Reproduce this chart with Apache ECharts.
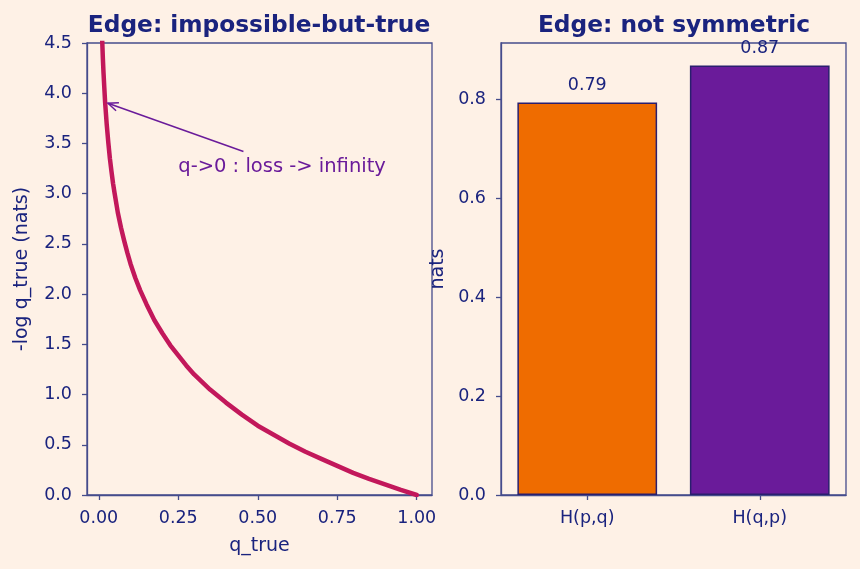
<!DOCTYPE html>
<html>
<head>
<meta charset="utf-8">
<script src="https://cdn.jsdelivr.net/npm/echarts@6/dist/echarts.min.js"></script>
<style>
  html, body { margin: 0; padding: 0; background: #fef1e6; }
  #main { width: 860px; height: 569px; }
</style>
</head>
<body>
<div id="main"></div>
<script>
// 左图: -log q_true 曲线 (读图估计的点)
var qTrue = [0.01, 0.011, 0.013, 0.015, 0.0175, 0.02, 0.025, 0.03, 0.035, 0.04, 0.045, 0.05, 0.06, 0.07, 0.08,
             0.09, 0.10, 0.115, 0.13, 0.15, 0.175, 0.20, 0.225, 0.25, 0.275, 0.30, 0.35, 0.40, 0.45, 0.50,
             0.55, 0.60, 0.65, 0.70, 0.75, 0.80, 0.85, 0.90, 0.95, 1.00];
var negLog = [4.61, 4.51, 4.34, 4.20, 4.05, 3.91, 3.69, 3.51, 3.35, 3.22, 3.10, 3.00, 2.81, 2.66, 2.53,
              2.41, 2.30, 2.16, 2.04, 1.90, 1.74, 1.61, 1.49, 1.39, 1.29, 1.20, 1.05, 0.92, 0.80, 0.69,
              0.60, 0.51, 0.43, 0.36, 0.29, 0.22, 0.16, 0.105, 0.05, 0.00];
var xTicks = [0, 0.25, 0.5, 0.75, 1.0];

// 注释
var annPoint = [0.02, 3.91];
var annTail = [0.455, 3.42];
var annTextPos = [0.25, 3.2];
var annText = 'q->0 : loss -> infinity';

// 右图: 交叉熵不对称
var barNames = ['H(p,q)', 'H(q,p)'];
var barValues = [0.793, 0.868];
var barColors = ['#ef6c00', '#6a1b9a'];
var rightTicks = [0, 0.2, 0.4, 0.6, 0.8];

var navy = '#1a237e';
var spine = '#454c8c';
var font = 'DejaVu Sans';
var tickSize = 17.5;

var curve = qTrue.map(function(q, i) { return [q, negLog[i]]; });

function axisBase() {
    return {
        axisLine: { show: true, onZero: false, lineStyle: { color: spine, width: 1.3 } },
        axisTick: { show: true, length: 5, lineStyle: { color: spine, width: 1.3 } },
        axisLabel: { color: navy, fontSize: tickSize, fontFamily: font },
        splitLine: { show: false },
        nameTextStyle: { color: navy, fontSize: 19, fontFamily: font }
    };
}

var chart = echarts.init(document.getElementById('main'));

var xLeft = axisBase();
Object.assign(xLeft, {
    type: 'value', gridIndex: 0, min: -0.037, max: 1.048,
    name: 'q_true', nameLocation: 'middle', nameGap: 42
});
xLeft.axisLabel = Object.assign({}, xLeft.axisLabel, {
    margin: 14, customValues: xTicks,
    formatter: function(v) { return v.toFixed(2); }
});
xLeft.axisTick = Object.assign({}, xLeft.axisTick, { customValues: xTicks });

var yLeft = axisBase();
Object.assign(yLeft, {
    type: 'value', gridIndex: 0, min: 0, max: 4.5, interval: 0.5,
    name: '-log q_true (nats)', nameLocation: 'middle', nameGap: 55
});
yLeft.axisLabel = Object.assign({}, yLeft.axisLabel, {
    margin: 15, showMaxLabel: true,
    formatter: function(v) { return v.toFixed(1); }
});

var xRight = axisBase();
Object.assign(xRight, {
    type: 'category', gridIndex: 1, data: barNames, boundaryGap: true
});
xRight.axisTick = Object.assign({}, xRight.axisTick, { alignWithLabel: true });
xRight.axisLabel = Object.assign({}, xRight.axisLabel, { margin: 14 });

var yRight = axisBase();
Object.assign(yRight, {
    type: 'value', gridIndex: 1, min: 0, max: 0.9135,
    name: 'nats', nameLocation: 'middle', nameGap: 53
});
yRight.axisLabel = Object.assign({}, yRight.axisLabel, {
    margin: 15, customValues: rightTicks,
    formatter: function(v) { return v.toFixed(1); }
});
yRight.axisTick = Object.assign({}, yRight.axisTick, { customValues: rightTicks });

var option = {
    backgroundColor: '#fef1e6',
    animation: false,
    title: [
        { text: 'Edge: impossible-but-true', left: 254, top: 9, textAlign: 'center',
          textStyle: { color: navy, fontSize: 23.3, fontWeight: 'bold', fontFamily: font } },
        { text: 'Edge: not symmetric', left: 669, top: 9, textAlign: 'center',
          textStyle: { color: navy, fontSize: 23.3, fontWeight: 'bold', fontFamily: font } }
    ],
    grid: [
        { left: 87, top: 43, width: 345, height: 452, show: true, borderColor: spine, borderWidth: 1.3, backgroundColor: 'transparent' },
        { left: 501, top: 43, width: 345, height: 452, show: true, borderColor: spine, borderWidth: 1.3, backgroundColor: 'transparent' }
    ],
    xAxis: [xLeft, xRight],
    yAxis: [yLeft, yRight],
    series: [
        {
            type: 'line', xAxisIndex: 0, yAxisIndex: 0,
            data: curve, showSymbol: false, smooth: false,
            lineStyle: { color: '#c2185b', width: 4.5, join: 'round', cap: 'round' }, clip: true, z: 3
        },
        {
            type: 'custom', xAxisIndex: 0, yAxisIndex: 0,
            data: [[annPoint[0], annPoint[1], annTail[0], annTail[1], annTextPos[0], annTextPos[1]]],
            clip: false, z: 4,
            renderItem: function(params, api) {
                var head = api.coord([api.value(0), api.value(1)]);
                var tail = api.coord([api.value(2), api.value(3)]);
                var tp = api.coord([api.value(4), api.value(5)]);
                var ang = Math.atan2(tail[1] - head[1], tail[0] - head[0]);
                var tip = [head[0] + 3 * Math.cos(ang), head[1] + 3 * Math.sin(ang)];
                var L = 11, a = 0.4;
                var p1 = [tip[0] + L * Math.cos(ang + a), tip[1] + L * Math.sin(ang + a)];
                var p2 = [tip[0] + L * Math.cos(ang - a), tip[1] + L * Math.sin(ang - a)];
                var col = '#6a1b9a';
                return {
                    type: 'group',
                    children: [
                        { type: 'line', shape: { x1: tail[0], y1: tail[1], x2: tip[0], y2: tip[1] },
                          style: { stroke: col, lineWidth: 1.5 } },
                        { type: 'polyline', shape: { points: [p1, tip, p2] },
                          style: { stroke: col, lineWidth: 1.5, fill: null } },
                        { type: 'text', x: tp[0], y: tp[1] + 3,
                          style: { text: annText, fill: col, fontSize: 19.5, fontFamily: font,
                                   textAlign: 'left', textVerticalAlign: 'bottom' } }
                    ]
                };
            }
        },
        {
            type: 'bar', xAxisIndex: 1, yAxisIndex: 1,
            barWidth: '81%',
            data: barValues.map(function(v, i) {
                return { value: v, itemStyle: { color: barColors[i] } };
            }),
            itemStyle: { borderColor: '#2a1f6e', borderWidth: 1.5 },
            label: {
                show: true, position: 'top', distance: 8, color: navy, fontSize: tickSize, fontFamily: font,
                formatter: function(p) { return p.value.toFixed(2); }
            }
        }
    ]
};

chart.setOption(option);
</script>
</body>
</html>
